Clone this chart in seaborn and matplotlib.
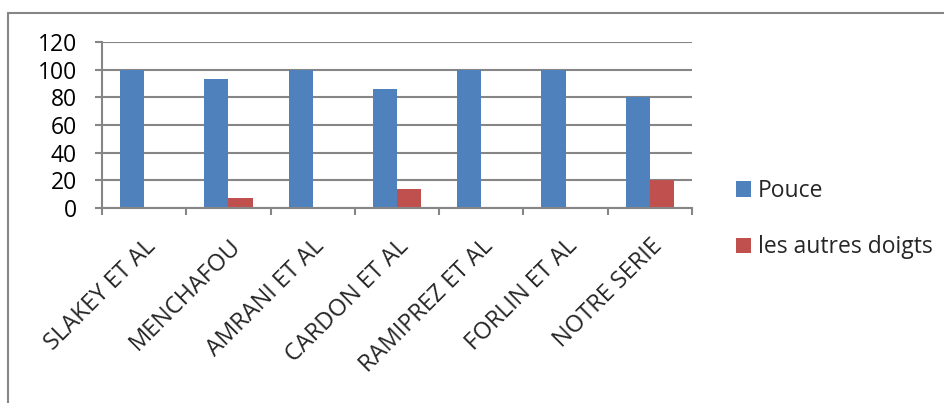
import matplotlib
matplotlib.use("Agg")
import matplotlib.pyplot as plt
from matplotlib.lines import Line2D
from matplotlib.patches import Patch
import seaborn as sns
import pandas as pd

categories = ["SLAKEY ET AL", "MENCHAFOU", "AMRANI ET AL", "CARDON ET AL",
              "RAMIPREZ ET AL", "FORLIN ET AL", "NOTRE SERIE"]
pouce = [100, 93, 100, 86, 100, 100, 80]
autres_doigts = [0, 7, 0, 14, 0, 0, 20]
series_names = ["Pouce", "les autres doigts"]
y_ticks = [0, 20, 40, 60, 80, 100, 120]

colors = ["#4F81BD", "#C0504D"]
grid_color = "#868686"

df = pd.DataFrame({
    "etude": categories * 2,
    "valeur": pouce + autres_doigts,
    "serie": [series_names[0]] * len(categories) + [series_names[1]] * len(categories),
})

sns.set_theme(style="white")
plt.rcParams["font.family"] = ["Open Sans", "DejaVu Sans"]

fig = plt.figure(figsize=(9.44, 4.03), dpi=100)
ax = fig.add_axes([102 / 944, 1 - 208 / 403, 590 / 944, 166 / 403])

sns.barplot(data=df, x="etude", y="valeur", hue="serie", order=categories,
            hue_order=series_names, palette=colors, width=0.572, gap=0,
            saturation=1, edgecolor="none", linewidth=0, legend=False, ax=ax)

ax.set_ylim(0, 120)
ax.set_xlim(-0.5, len(categories) - 0.5)
ax.set_yticks(y_ticks)
ax.set_yticklabels([str(v) for v in y_ticks], fontsize=16.5)
ax.yaxis.grid(True, color=grid_color, linewidth=1.5)
ax.set_axisbelow(True)
ax.set_xlabel("")
ax.set_ylabel("")

for side in ["top", "right"]:
    ax.spines[side].set_visible(False)
for side in ["left", "bottom"]:
    ax.spines[side].set_color(grid_color)
    ax.spines[side].set_linewidth(1.5)

# category separators as tick marks below the axis
ax.set_xticks([i - 0.5 for i in range(len(categories) + 1)], minor=True)
ax.tick_params(axis="x", which="minor", length=5, width=1.5, color=grid_color,
               direction="out", bottom=True)
ax.tick_params(axis="x", which="major", length=0, pad=19)
ax.tick_params(axis="y", which="major", length=5, width=1.5, color=grid_color,
               direction="out", left=True, pad=13)
ax.set_xticks(range(len(categories)))
ax.set_xticklabels(categories, rotation=45, ha="right", rotation_mode="anchor",
                   fontsize=17)
for lab in ax.get_yticklabels():
    lab.set_color("black")

handles = [Patch(facecolor=c, edgecolor="none") for c in colors]
fig.legend(handles, series_names, loc="upper left",
           bbox_to_anchor=(727 / 944, 1 - 170 / 403), frameon=False,
           fontsize=16.5, handlelength=0.65, handleheight=0.65, handletextpad=0.3,
           labelspacing=1.4, borderaxespad=0)

# outer chart frame (top and left edges)
fig.add_artist(Line2D([8 / 944, 1.0], [1 - 13 / 403, 1 - 13 / 403],
                      transform=fig.transFigure, color=grid_color, linewidth=1.5))
fig.add_artist(Line2D([8 / 944, 8 / 944], [1 - 13 / 403, 0.0],
                      transform=fig.transFigure, color=grid_color, linewidth=1.5))

fig.savefig("out.png", dpi=100, facecolor="white")
